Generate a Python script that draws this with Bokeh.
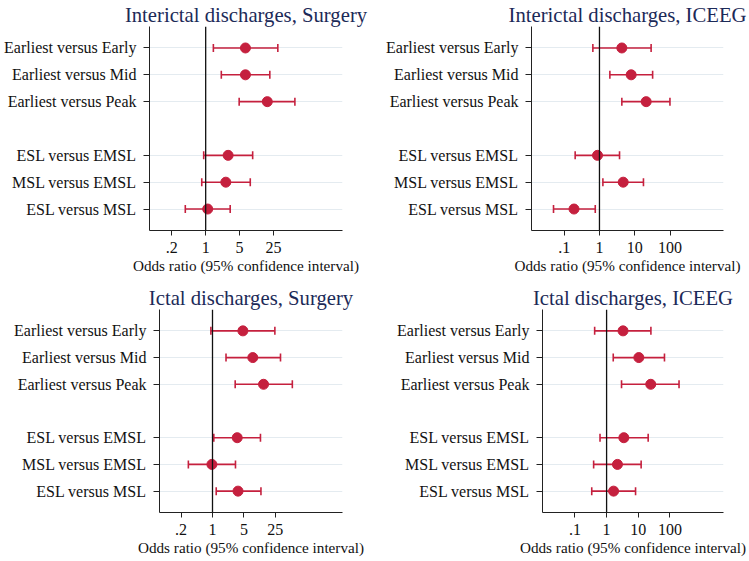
from bokeh.plotting import figure
from bokeh.models import Range1d, FixedTicker, Span, Whisker, ColumnDataSource, TeeHead
from bokeh.layouts import column, row
from bokeh.embed import file_html
from bokeh.resources import INLINE

# ---------------- data ----------------
comparisons = ["Earliest versus Early", "Earliest versus Mid", "Earliest versus Peak",
               "ESL versus EMSL", "MSL versus EMSL", "ESL versus MSL"]
comparison_group = [0, 0, 0, 1, 1, 1]

titles = ["Interictal discharges, Surgery", "Interictal discharges, ICEEG",
          "Ictal discharges, Surgery", "Ictal discharges, ICEEG"]

inter_surg_or = [6.6, 6.6, 18.6, 2.9, 2.6, 1.1]
inter_surg_lo = [1.44, 2.1, 4.9, 0.91, 0.83, 0.38]
inter_surg_hi = [30.7, 21.0, 69.0, 9.3, 8.3, 3.2]

inter_iceeg_or = [4.3, 7.9, 21.0, 0.88, 4.7, 0.19]
inter_iceeg_lo = [0.65, 1.97, 4.3, 0.205, 1.25, 0.05]
inter_iceeg_hi = [29.0, 32.0, 99.0, 3.7, 17.6, 0.76]

ictal_surg_or = [4.75, 7.9, 13.7, 3.55, 0.97, 3.7]
ictal_surg_lo = [0.92, 2.0, 3.2, 1.07, 0.29, 1.21]
ictal_surg_hi = [24.5, 32.7, 60.0, 11.7, 3.25, 12.0]

ictal_iceeg_or = [3.3, 10.4, 24.7, 3.5, 2.2, 1.66]
ictal_iceeg_lo = [0.42, 1.62, 2.96, 0.62, 0.39, 0.34]
ictal_iceeg_hi = [25.0, 67.0, 193.0, 20.5, 12.3, 8.2]

surgery_ticks = [0.2, 1, 5, 25]
surgery_tick_labels = [".2", "1", "5", "25"]
iceeg_ticks = [0.1, 1, 10, 100]
iceeg_tick_labels = [".1", "1", "10", "100"]

x_label = "Odds ratio (95% confidence interval)"

# ---------------- style ----------------
RED = "#c5203e"
GRID = "#e4ebf0"
TITLE_COLOR = "#1c2a58"
FONT = "Liberation Serif"

n_rows = len(comparisons) + max(comparison_group)
y_positions = [n_rows - (i + g) for i, g in enumerate(comparison_group)]


def make_panel(title, or_vals, lo_vals, hi_vals, ticks, tick_labels, x_start, x_end,
               width, height, b_left, b_right, b_top, b_bottom):
    p = figure(width=width, height=height, x_axis_type="log",
               x_range=Range1d(x_start, x_end), y_range=Range1d(0.2, n_rows + 0.8),
               output_backend="svg", toolbar_location=None, title=title,
               min_border_left=b_left, min_border_right=b_right,
               min_border_top=b_top, min_border_bottom=b_bottom)
    p.background_fill_color = "white"
    p.border_fill_color = "white"
    p.outline_line_color = None

    p.title.text_font = FONT
    p.title.text_font_size = "20.7px"
    p.title.text_font_style = "normal"
    p.title.text_color = TITLE_COLOR
    p.title.align = "center"
    p.title.standoff = 2

    # x axis
    xa = p.xaxis[0]
    xa.ticker = FixedTicker(ticks=ticks, minor_ticks=[])
    xa.major_label_overrides = {t: l for t, l in zip(ticks, tick_labels)}
    xa.axis_label = x_label
    xa.axis_label_text_font = FONT
    xa.axis_label_text_font_size = "15.2px"
    xa.axis_label_text_font_style = "normal"
    xa.axis_label_text_color = "#111111"
    xa.axis_label_standoff = 1
    xa.major_label_text_font = FONT
    xa.major_label_text_font_size = "16px"
    xa.major_label_text_color = "#111111"
    xa.major_label_standoff = 6
    xa.major_tick_out = 5
    xa.major_tick_in = 0
    xa.minor_tick_out = 0
    xa.minor_tick_in = 0
    xa.axis_line_color = "#222222"
    xa.major_tick_line_color = "#222222"

    # y axis
    ya = p.yaxis[0]
    ya.ticker = FixedTicker(ticks=y_positions, minor_ticks=[])
    ya.major_label_overrides = {y: c for y, c in zip(y_positions, comparisons)}
    ya.major_label_text_font = FONT
    ya.major_label_text_font_size = "16px"
    ya.major_label_text_color = "#111111"
    ya.major_label_standoff = 7
    ya.major_tick_out = 6
    ya.major_tick_in = 0
    ya.minor_tick_out = 0
    ya.minor_tick_in = 0
    ya.axis_line_color = "#222222"
    ya.major_tick_line_color = "#222222"

    p.xgrid.grid_line_color = None
    p.ygrid.grid_line_color = GRID
    p.ygrid.grid_line_width = 1
    p.ygrid.ticker = FixedTicker(ticks=y_positions, minor_ticks=[])

    p.add_layout(Span(location=1, dimension="height", line_color="#111111", line_width=1.3))

    src = ColumnDataSource(dict(y=y_positions, est=or_vals, lo=lo_vals, hi=hi_vals))
    w = Whisker(source=src, base="y", lower="lo", upper="hi", dimension="width",
                line_color=RED, line_width=1.6,
                lower_head=TeeHead(size=8, line_color=RED, line_width=1.6),
                upper_head=TeeHead(size=8, line_color=RED, line_width=1.6))
    p.add_layout(w)
    p.scatter("est", "y", source=src, size=10, marker="circle",
              fill_color=RED, line_color=RED)
    return p


p1 = make_panel(titles[0], inter_surg_or, inter_surg_lo, inter_surg_hi,
                surgery_ticks, surgery_tick_labels, 0.0695, 661,
                375, 279, 149, 33, 26, 49)
p2 = make_panel(titles[1], inter_iceeg_or, inter_iceeg_lo, inter_iceeg_hi,
                iceeg_ticks, iceeg_tick_labels, 0.0119, 3250,
                372, 279, 156, 24, 26, 49)
p3 = make_panel(titles[2], ictal_surg_or, ictal_surg_lo, ictal_surg_hi,
                surgery_ticks, surgery_tick_labels, 0.066, 786,
                375, 281, 159, 33, 30, 48)
p4 = make_panel(titles[3], ictal_iceeg_or, ictal_iceeg_lo, ictal_iceeg_hi,
                iceeg_ticks, iceeg_tick_labels, 0.0095, 4880,
                372, 281, 167, 24, 30, 48)

layout = column(row(p1, p2, spacing=0), row(p3, p4, spacing=0), spacing=0)

open("out.html", "w").write(file_html(layout, INLINE))
